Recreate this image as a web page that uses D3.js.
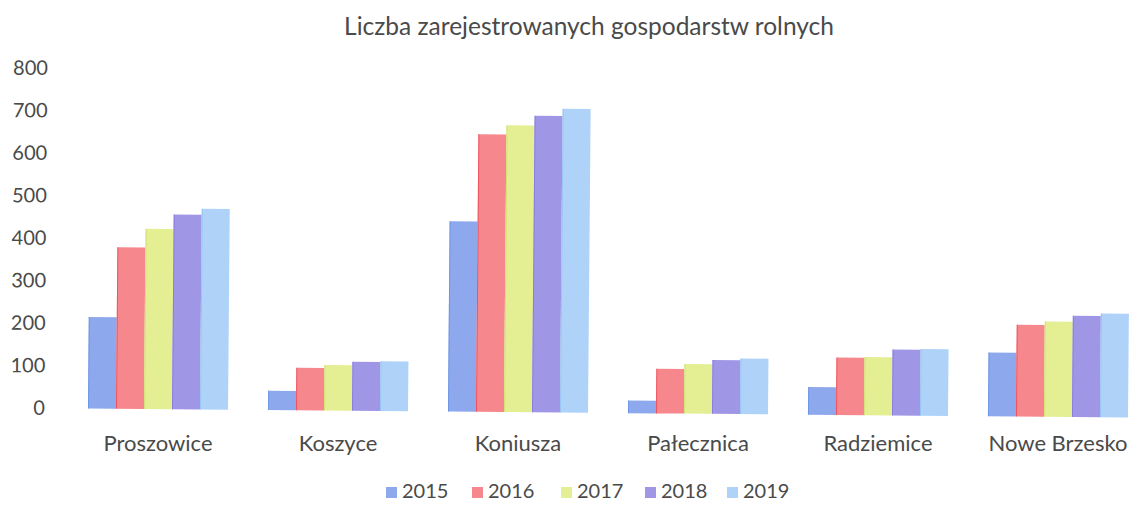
<!DOCTYPE html>
<html>
<head>
<meta charset="utf-8">
<script src="https://cdn.jsdelivr.net/npm/d3@7"></script>
<style>
  body { margin: 0; background: #fff; }
  svg text { font-family: Lato, "Open Sans", sans-serif; fill: #4a4a4a; }
</style>
</head>
<body>
<svg id="chart" width="1131" height="510"></svg>
<script>
/* data */
var categories = ["Proszowice", "Koszyce", "Koniusza", "Pałecznica", "Radziemice", "Nowe Brzesko"];
var years = ["2015", "2016", "2017", "2018", "2019"];
var v2015 = [215, 45, 448, 30, 65, 150];
var v2016 = [380, 100, 653, 105, 135, 216];
var v2017 = [424, 107, 675, 117, 137, 224];
var v2018 = [458, 115, 698, 127, 155, 238];
var v2019 = [472, 117, 715, 131, 157, 244];
var yTicks = [0, 100, 200, 300, 400, 500, 600, 700, 800];
var colors = ["#8ea8ee", "#f6878d", "#e4ee92", "#9f97e6", "#afd2f8"];
var edges = ["#5f8fe0", "#ee3c4a", "#cfdc6a", "#7f74d8", "#8fbdf0"];

var series = [v2015, v2016, v2017, v2018, v2019];

var svg = d3.select("#chart");

// the scan is rotated a little, so turn the plot with it
var g = svg.append("g").attr("transform", "rotate(0.5, 40, 408)");

var x0 = d3.scaleBand().domain(categories).range([68, 1148]).paddingInner(0.222).paddingOuter(0.111);
var x1 = d3.scaleBand().domain(years).range([0, x0.bandwidth()]);
var y = d3.scaleLinear().domain([0, 800]).range([408, 68]);

svg.append("text")
  .attr("x", 589).attr("y", 35)
  .attr("text-anchor", "middle")
  .style("font-size", "24.5px")
  .text("Liczba zarejestrowanych gospodarstw rolnych");

var yAxis = g.append("g")
  .attr("transform", "translate(47,0)")
  .call(d3.axisLeft(y).tickValues(yTicks).tickSize(0).tickPadding(2));
yAxis.select(".domain").remove();
yAxis.selectAll("text").style("font-size", "20px").style("font-family", "Lato, sans-serif").attr("fill", "#4a4a4a");

var groups = g.selectAll(".grp").data(categories)
  .enter().append("g")
  .attr("class", "grp")
  .attr("transform", function(d){ return "translate(" + x0(d) + ",0)"; });

function cells(d, i){
  return years.map(function(yr, j){ return {year: yr, idx: j, value: series[j][i]}; });
}

groups.selectAll("rect")
  .data(cells)
  .enter().append("rect")
  .attr("x", function(d){ return x1(d.year); })
  .attr("y", function(d){ return y(d.value); })
  .attr("width", x1.bandwidth())
  .attr("height", function(d){ return y(0) - y(d.value); })
  .attr("fill", function(d){ return colors[d.idx]; });

// thin darker left edge like on the scan
groups.selectAll("line.edge")
  .data(cells)
  .enter().append("line")
  .attr("class", "edge")
  .attr("x1", function(d){ return x1(d.year) + 0.5; })
  .attr("x2", function(d){ return x1(d.year) + 0.5; })
  .attr("y1", function(d){ return y(d.value); })
  .attr("y2", y(0))
  .attr("stroke", function(d){ return edges[d.idx]; })
  .attr("stroke-opacity", 0.7);

svg.selectAll(".cat").data(categories)
  .enter().append("text")
  .attr("class", "cat")
  .attr("x", function(d){ return x0(d) + x0.bandwidth() / 2; })
  .attr("y", 451)
  .attr("text-anchor", "middle")
  .style("font-size", "22px")
  .text(function(d){ return d; });

// legend
var legX = [386, 472, 561, 645, 727];
var leg = svg.selectAll(".leg").data(years)
  .enter().append("g")
  .attr("class", "leg")
  .attr("transform", function(d, i){ return "translate(" + legX[i] + ",487)"; });
leg.append("rect")
  .attr("width", 11).attr("height", 11)
  .attr("fill", function(d, i){ return colors[i]; });
leg.append("text")
  .attr("x", 16).attr("y", 11)
  .style("font-size", "20px")
  .text(function(d){ return d; });
</script>
</body>
</html>
